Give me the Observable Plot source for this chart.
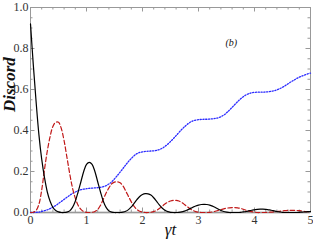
<!DOCTYPE html>
<html>
<head>
<meta charset="utf-8">
<script src="https://cdn.jsdelivr.net/npm/d3@7"></script>
<script src="https://cdn.jsdelivr.net/npm/@observablehq/plot@0.6"></script>
<style>
  html, body { margin: 0; padding: 0; background: #fff; }
  #chart svg { display: block; }
</style>
</head>
<body>
<div id="chart"></div>
<script>
// time grid (gamma t), step 0.05
const gammaT = d3.range(0, 101).map(i => +(i * 0.05).toFixed(2));

// solid black curve
const blackSeries = [
  0.92, 0.72, 0.54, 0.38, 0.26, 0.17, 0.10, 0.055, 0.025, 0.010,
  0.003, 0.0, 0.0, 0.002, 0.008, 0.025, 0.055, 0.10, 0.15, 0.20,
  0.235, 0.245, 0.235, 0.20, 0.15, 0.10, 0.055, 0.025, 0.008, 0.002,
  0.0, 0.0, 0.0, 0.002, 0.006, 0.014, 0.027, 0.045, 0.063, 0.078,
  0.088, 0.092, 0.091, 0.085, 0.072, 0.055, 0.037, 0.022, 0.011, 0.004,
  0.001, 0.0, 0.0, 0.001, 0.003, 0.007, 0.012, 0.019, 0.026, 0.032,
  0.036, 0.039, 0.040, 0.039, 0.036, 0.031, 0.024, 0.017, 0.010, 0.005,
  0.002, 0.0, 0.0, 0.0, 0.0, 0.001, 0.003, 0.005, 0.008, 0.011,
  0.013, 0.015, 0.016, 0.016, 0.015, 0.013, 0.011, 0.008, 0.005, 0.003,
  0.001, 0.0, 0.0, 0.0, 0.0, 0.0, 0.001, 0.002, 0.003, 0.004,
  0.005
];

// dashed red curve
const redSeries = [
  0.0, 0.001, 0.010, 0.040, 0.11, 0.21, 0.30, 0.37, 0.42, 0.44,
  0.44, 0.41, 0.35, 0.27, 0.19, 0.12, 0.07, 0.035, 0.015, 0.005,
  0.001, 0.0, 0.001, 0.005, 0.015, 0.035, 0.065, 0.095, 0.12, 0.14,
  0.148, 0.150, 0.145, 0.13, 0.105, 0.078, 0.052, 0.030, 0.015, 0.006,
  0.002, 0.0, 0.0, 0.001, 0.004, 0.010, 0.019, 0.030, 0.041, 0.050,
  0.056, 0.059, 0.059, 0.056, 0.049, 0.039, 0.028, 0.018, 0.010, 0.004,
  0.001, 0.0, 0.0, 0.0, 0.001, 0.003, 0.006, 0.010, 0.014, 0.018,
  0.021, 0.023, 0.024, 0.024, 0.023, 0.020, 0.016, 0.011, 0.007, 0.004,
  0.002, 0.0, 0.0, 0.0, 0.0, 0.001, 0.002, 0.003, 0.005, 0.006,
  0.008, 0.009, 0.010, 0.010, 0.010, 0.010, 0.009, 0.007, 0.005, 0.004,
  0.003
];

// dotted blue curve
const blueSeries = [
  0.0, 0.0, 0.001, 0.002, 0.005, 0.009, 0.013, 0.019, 0.026, 0.034,
  0.044, 0.054, 0.064, 0.074, 0.084, 0.093, 0.100, 0.106, 0.111, 0.114,
  0.116, 0.118, 0.119, 0.120, 0.121, 0.123, 0.126, 0.131, 0.139, 0.150,
  0.164, 0.180, 0.197, 0.214, 0.232, 0.249, 0.264, 0.277, 0.287, 0.293,
  0.296, 0.298, 0.299, 0.300, 0.301, 0.303, 0.307, 0.313, 0.322, 0.333,
  0.346, 0.360, 0.375, 0.390, 0.405, 0.418, 0.430, 0.440, 0.447, 0.451,
  0.453, 0.454, 0.455, 0.455, 0.456, 0.457, 0.459, 0.462, 0.467, 0.475,
  0.486, 0.499, 0.513, 0.527, 0.541, 0.554, 0.565, 0.574, 0.580, 0.584,
  0.586, 0.587, 0.587, 0.587, 0.588, 0.589, 0.591, 0.594, 0.598, 0.604,
  0.611, 0.619, 0.628, 0.637, 0.645, 0.653, 0.660, 0.666, 0.671, 0.676,
  0.680
];

// tick values
const xTickLabels = [0, 1, 2, 3, 4, 5];
const xMinorTicks = d3.range(0, 26).map(i => +(i * 0.2).toFixed(2));
const yTickLabels = [0, 0.2, 0.4, 0.6, 0.8, 1.0];
const yMinorTicks = d3.range(0, 21).map(i => +(i * 0.05).toFixed(2));

const panelLabel = ["(b)"];
const xLabel = ["\u03B3t"];
const yLabel = ["Discord"];

const toRows = vals => gammaT.map((t, i) => ({t, v: vals[i]}));

const W = 313, H = 245;
const mL = 30, mR = 3, mT = 7, mB = 33;
const pxX = 5 / (W - mL - mR);   // data units per px
const pxY = 1 / (H - mT - mB);

const serif = "'Liberation Serif', 'DejaVu Serif', serif";
const axisGray = "#999";

const chart = Plot.plot({
  width: W,
  height: H,
  marginLeft: mL,
  marginRight: mR,
  marginTop: mT,
  marginBottom: mB,
  style: {fontFamily: serif, background: "#fff"},
  x: {domain: [0, 5], axis: null},
  y: {domain: [0, 1], axis: null},
  marks: [
    Plot.ruleY([0], {stroke: "#d0d0d0", strokeWidth: 2.5}),
    Plot.frame({stroke: axisGray, strokeWidth: 1}),
    // y ticks (left and right, inward)
    Plot.ruleY(yMinorTicks, {y: d => d, x1: 0, x2: d => (Math.round(d * 100) % 20 === 0 ? 4.5 : 2.5) * pxX, stroke: axisGray}),
    Plot.ruleY(yMinorTicks, {y: d => d, x1: 5, x2: d => 5 - (Math.round(d * 100) % 20 === 0 ? 4.5 : 2.5) * pxX, stroke: axisGray}),
    // x ticks (top and bottom, inward)
    Plot.ruleX(xMinorTicks, {x: d => d, y1: 1, y2: d => 1 - (Math.round(d * 10) % 10 === 0 ? 4.5 : 2.5) * pxY, stroke: axisGray}),
    Plot.ruleX(xMinorTicks, {x: d => d, y1: 0, y2: d => (Math.round(d * 10) % 10 === 0 ? 4.5 : 2.5) * pxY, stroke: axisGray}),
    Plot.axisY(yTickLabels, {label: null, tickSize: 0, tickPadding: 2, tickFormat: d3.format(".1f"), fontSize: 12, fontFamily: serif, fill: "#333"}),
    Plot.axisX(xTickLabels, {label: null, tickSize: 0, tickPadding: 3, tickFormat: d3.format("d"), fontSize: 12, fontFamily: serif, fill: "#333"}),
    // curves
    Plot.line(toRows(blueSeries), {x: "t", y: "v", stroke: "#2a2aff", strokeWidth: 1.3, strokeDasharray: "1.2,1.6", curve: "catmull-rom"}),
    Plot.line(toRows(redSeries), {x: "t", y: "v", stroke: "#c01818", strokeWidth: 1.2, strokeDasharray: "4.5,2.5", curve: "catmull-rom"}),
    Plot.line(toRows(blackSeries), {x: "t", y: "v", stroke: "#000", strokeWidth: 1.2, curve: "catmull-rom"}),
    // texts
    Plot.text(panelLabel, {text: d => d, frameAnchor: "top-left", dx: 195, dy: 31, fontSize: 10, fontStyle: "italic", fontFamily: serif, fill: "#111"}),
    Plot.text(xLabel, {text: d => d, frameAnchor: "bottom", dy: 22, fontSize: 17, fontStyle: "italic", fontFamily: serif, fill: "#111"}),
    Plot.text(yLabel, {text: d => d, frameAnchor: "left", dx: -21, dy: 2, rotate: -90, fontSize: 17, fontStyle: "italic", fontWeight: "bold", fontFamily: serif, fill: "#111"})
  ]
});

document.getElementById("chart").appendChild(chart);
</script>
</body>
</html>
